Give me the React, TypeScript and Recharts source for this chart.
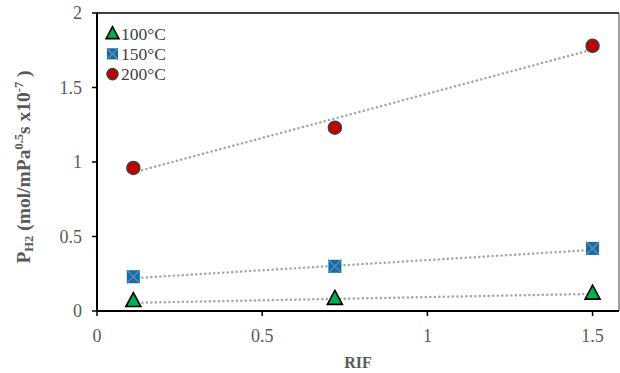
import { ScatterChart, Scatter, XAxis, YAxis, ReferenceLine, Label } from 'recharts'

const rif = [0.11, 0.72, 1.5]
const p100 = [0.07, 0.085, 0.12]
const p150 = [0.23, 0.3, 0.42]
const p200 = [0.96, 1.23, 1.78]

// trend line end points
const trendX = [0.11, 1.5]
const trend100 = [0.055, 0.115]
const trend150 = [0.22, 0.41]
const trend200 = [0.93, 1.755]

const xTicks = [0, 0.5, 1, 1.5]
const yTicks = [0, 0.5, 1, 1.5, 2]

const toPoints = (xs: number[], ys: number[]) => xs.map((x, i) => ({ x, y: ys[i] }))

const FONT = 'Liberation Serif, Times New Roman, serif'

function Triangle(props: any) {
  const { cx, cy, s = 1 } = props
  return (
    <path
      d={`M${cx},${cy - 8 * s} L${cx + 7.5 * s},${cy + 6 * s} L${cx - 7.5 * s},${cy + 6 * s} Z`}
      fill="#00B050"
      stroke="#000"
      strokeWidth={1.6}
    />
  )
}

function CrossSquare(props: any) {
  const { cx, cy, s = 1 } = props
  const h = 6.5 * s
  return (
    <g>
      <rect x={cx - h} y={cy - h} width={2 * h} height={2 * h} fill="#0070C0" />
      <path d={`M${cx - h},${cy - h} L${cx + h},${cy + h} M${cx + h},${cy - h} L${cx - h},${cy + h}`} stroke="#7F7F7F" strokeWidth={1.6} />
    </g>
  )
}

function Dot(props: any) {
  const { cx, cy, s = 1 } = props
  return <circle cx={cx} cy={cy} r={6.5 * s} fill="#C00000" stroke="#404040" strokeWidth={1.5} />
}

const legendItems = [
  { name: '100°C', Shape: Triangle },
  { name: '150°C', Shape: CrossSquare },
  { name: '200°C', Shape: Dot },
]

function LegendBox() {
  return (
    <svg width={90} height={66} style={{ position: 'absolute', left: 103, top: 22 }}>
      {legendItems.map((item, i) => (
        <g key={item.name}>
          <item.Shape cx={9.5} cy={11.5 + i * 20.3} s={0.85} />
          <text x={18} y={11.5 + i * 20.3 + 6} fontFamily={FONT} fontSize={17.5} fill="#404040">
            {item.name}
          </text>
        </g>
      ))}
    </svg>
  )
}

function YTitle() {
  return (
    <text
      transform="rotate(-90, 30, 167)"
      x={30}
      y={167}
      textAnchor="middle"
      fontFamily={FONT}
      fontWeight="bold"
      fontSize={19.5}
      fill="#595959"
    >
      P<tspan fontSize={12.5} dy={3}>H2</tspan>
      <tspan dy={-3}> (mol/mPa</tspan>
      <tspan fontSize={12.5} dy={-7}>0.5</tspan>
      <tspan dy={7}>s x10</tspan>
      <tspan fontSize={12.5} dy={-7}>-7</tspan>
      <tspan dy={7}> )</tspan>
    </text>
  )
}

const trendLine = { stroke: '#A6A6A6', strokeWidth: 2.5, strokeDasharray: '0.1 4.4', strokeLinecap: 'round' as const }

export default function App() {
  return (
    <div style={{ position: 'absolute', left: 0, top: 0, width: 620, height: 373, background: '#fff', fontFamily: FONT }}>
      <ScatterChart width={620} height={373} margin={{ top: 13, right: 1, bottom: 30, left: 37 }}>
        <XAxis
          type="number"
          dataKey="x"
          domain={[0, 1.58]}
          ticks={xTicks}
          allowDataOverflow
          axisLine={{ stroke: '#000', strokeWidth: 2 }}
          tickLine={{ stroke: '#000', strokeWidth: 1.5 }}
          tickSize={5}
          tickMargin={13}
          height={32}
          tick={{ fontFamily: FONT, fontSize: 18, fill: '#595959' }}
        >
          <Label value="RIF" position="insideBottom" offset={-25} style={{ fontFamily: FONT, fontSize: 16, fontWeight: 'bold', fill: '#595959' }} />
        </XAxis>
        <YAxis
          type="number"
          dataKey="y"
          domain={[0, 2]}
          ticks={yTicks}
          axisLine={{ stroke: '#000', strokeWidth: 2 }}
          tickLine={{ stroke: '#000', strokeWidth: 1.5 }}
          tickSize={5}
          tickMargin={10}
          width={60}
          tick={{ fontFamily: FONT, fontSize: 18, fill: '#595959' }}
          label={<YTitle />}
        />
        <ReferenceLine y={2} stroke="#000" strokeWidth={1.5} />
        <ReferenceLine x={1.58} stroke="#404040" strokeWidth={1} />
        <Scatter data={toPoints(trendX, trend100)} line={trendLine} shape={() => null} legendType="none" isAnimationActive={false} />
        <Scatter data={toPoints(trendX, trend150)} line={trendLine} shape={() => null} legendType="none" isAnimationActive={false} />
        <Scatter data={toPoints(trendX, trend200)} line={trendLine} shape={() => null} legendType="none" isAnimationActive={false} />
        <Scatter name="100°C" data={toPoints(rif, p100)} shape={Triangle} isAnimationActive={false} />
        <Scatter name="150°C" data={toPoints(rif, p150)} shape={CrossSquare} isAnimationActive={false} />
        <Scatter name="200°C" data={toPoints(rif, p200)} shape={Dot} isAnimationActive={false} />
      </ScatterChart>
      <LegendBox />
    </div>
  )
}
